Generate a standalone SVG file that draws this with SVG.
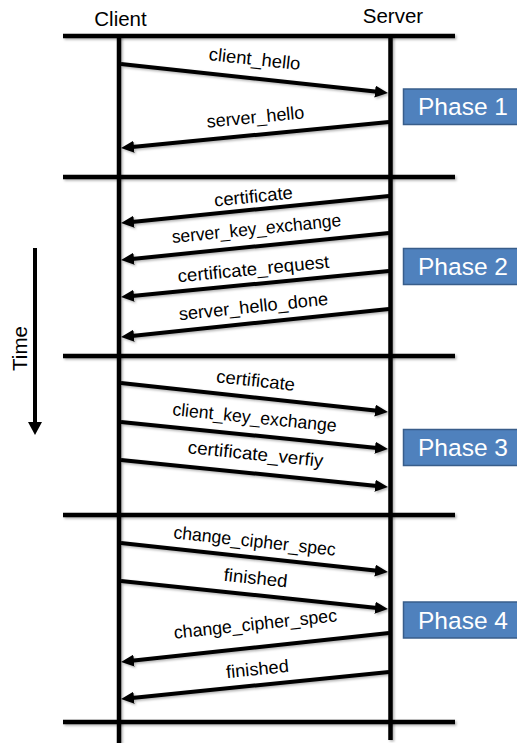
<svg xmlns="http://www.w3.org/2000/svg" width="517" height="743" viewBox="0 0 517 743">
  <defs>
    <style>
      .rule { stroke: #000; stroke-width: 4.5; fill: none; }
      .life { stroke: #000; stroke-width: 4.5; fill: none; }
      .msg { stroke: #000; stroke-width: 4; fill: none; marker-end: url(#head); }
      .label { font-family: "Liberation Sans", Arial, sans-serif; font-size: 18px; fill: #000; text-anchor: middle; }
      .actor { font-family: "Liberation Sans", Arial, sans-serif; font-size: 20.5px; fill: #000; text-anchor: middle; }
      .phase rect { fill: #4F81BD; stroke: #385D8A; stroke-width: 1.5; }
      .phase text { font-family: "Liberation Sans", Arial, sans-serif; font-size: 24.5px; fill: #fff; text-anchor: middle; }
    </style>
    <marker id="head" markerUnits="userSpaceOnUse" viewBox="0 0 13 12" markerWidth="13" markerHeight="12" refX="7" refY="6" orient="auto">
      <path d="M0,0 L13,6 L0,12 z" fill="#000"/>
    </marker>
    <!-- soft shadow under the strokes; region in user space so thin vertical lines keep it -->
    <filter id="shadow" filterUnits="userSpaceOnUse" x="0" y="0" width="517" height="743">
      <feDropShadow dx="1.5" dy="1.5" stdDeviation="1" flood-color="#000" flood-opacity="0.3"/>
    </filter>
  </defs>

  <rect width="517" height="743" fill="#fff"/>

  <!-- actors -->
  <g id="client">
    <text class="actor" x="120.5" y="26">Client</text>
    <line class="life" x1="119" y1="36" x2="119" y2="743" filter="url(#shadow)"/>
  </g>
  <g id="server">
    <text class="actor" x="393" y="23">Server</text>
    <line class="life" x1="390.5" y1="36" x2="390.5" y2="740" filter="url(#shadow)"/>
  </g>

  <!-- phase separators -->
  <g id="separators" filter="url(#shadow)">
    <line class="rule" x1="63" y1="36" x2="455" y2="36"/>
    <line class="rule" x1="63" y1="177" x2="455" y2="177"/>
    <line class="rule" x1="63" y1="356" x2="455" y2="356"/>
    <line class="rule" x1="63" y1="515" x2="455" y2="515"/>
    <line class="rule" x1="63" y1="722" x2="455" y2="722"/>
  </g>

  <!-- time axis -->
  <g id="time">
    <line x1="35" y1="248" x2="35" y2="425" stroke="#000" stroke-width="4"/>
    <path d="M28,422 L42,422 L35,435 z" fill="#000"/>
    <text class="actor" transform="translate(27,348.5) rotate(-90)">Time</text>
  </g>

  <!-- messages -->
  <g id="connectors" filter="url(#shadow)">
    <!-- phase 1 -->
    <line class="msg" x1="121" y1="64" x2="382" y2="92.35"/>
    <line class="msg" x1="389" y1="122" x2="127" y2="147.4"/>
    <!-- phase 2 -->
    <line class="msg" x1="389" y1="196" x2="127" y2="222.4"/>
    <line class="msg" x1="389" y1="233" x2="127" y2="259.4"/>
    <line class="msg" x1="389" y1="271" x2="127" y2="296.4"/>
    <line class="msg" x1="389" y1="309" x2="127" y2="336.4"/>
    <!-- phase 3 -->
    <line class="msg" x1="121" y1="383" x2="382" y2="411.35"/>
    <line class="msg" x1="121" y1="422" x2="382" y2="448.4"/>
    <line class="msg" x1="121" y1="460" x2="382" y2="486.4"/>
    <!-- phase 4 -->
    <line class="msg" x1="121" y1="543" x2="382" y2="571.35"/>
    <line class="msg" x1="121" y1="581" x2="382" y2="608.4"/>
    <line class="msg" x1="389" y1="633" x2="127" y2="661.35"/>
    <line class="msg" x1="389" y1="672" x2="127" y2="698.4"/>
  </g>

  <!-- message labels -->
  <g id="labels">
    <text class="label" transform="translate(254,65) rotate(6.2)" textLength="92" lengthAdjust="spacingAndGlyphs">client_hello</text>
    <text class="label" transform="translate(256,123) rotate(-5.54)" textLength="98" lengthAdjust="spacingAndGlyphs">server_hello</text>

    <text class="label" transform="translate(254,202.5) rotate(-5.75)" textLength="79" lengthAdjust="spacingAndGlyphs">certificate</text>
    <text class="label" transform="translate(257,234.6) rotate(-5.75)" textLength="170" lengthAdjust="spacingAndGlyphs">server_key_exchange</text>
    <text class="label" transform="translate(254,275) rotate(-5.54)" textLength="152" lengthAdjust="spacingAndGlyphs">certificate_request</text>
    <text class="label" transform="translate(254,312.5) rotate(-5.96)" textLength="150" lengthAdjust="spacingAndGlyphs">server_hello_done</text>

    <text class="label" transform="translate(255,386.5) rotate(6.2)" textLength="79" lengthAdjust="spacingAndGlyphs">certificate</text>
    <text class="label" transform="translate(254,423.5) rotate(5.77)" textLength="165" lengthAdjust="spacingAndGlyphs">client_key_exchange</text>
    <text class="label" transform="translate(255,460) rotate(5.77)" textLength="136" lengthAdjust="spacingAndGlyphs">certificate_verfiy</text>

    <text class="label" transform="translate(254,547) rotate(6.2)" textLength="163" lengthAdjust="spacingAndGlyphs">change_cipher_spec</text>
    <text class="label" transform="translate(255,584) rotate(5.99)" textLength="64" lengthAdjust="spacingAndGlyphs">finished</text>
    <text class="label" transform="translate(256,630) rotate(-6.18)" textLength="164" lengthAdjust="spacingAndGlyphs">change_cipher_spec</text>
    <text class="label" transform="translate(258,675) rotate(-5.75)" textLength="63" lengthAdjust="spacingAndGlyphs">finished</text>
  </g>

  <!-- phase tags -->
  <g id="phase1" class="phase">
    <rect x="403.5" y="89" width="115" height="35.5"/>
    <text x="463" y="115" textLength="90" lengthAdjust="spacingAndGlyphs">Phase 1</text>
  </g>
  <g id="phase2" class="phase">
    <rect x="403.5" y="248.5" width="115" height="36"/>
    <text x="463" y="275" textLength="90" lengthAdjust="spacingAndGlyphs">Phase 2</text>
  </g>
  <g id="phase3" class="phase">
    <rect x="403.5" y="429.5" width="115" height="36"/>
    <text x="463" y="456" textLength="90" lengthAdjust="spacingAndGlyphs">Phase 3</text>
  </g>
  <g id="phase4" class="phase">
    <rect x="403.5" y="602" width="115" height="36"/>
    <text x="463" y="628.5" textLength="90" lengthAdjust="spacingAndGlyphs">Phase 4</text>
  </g>
</svg>
